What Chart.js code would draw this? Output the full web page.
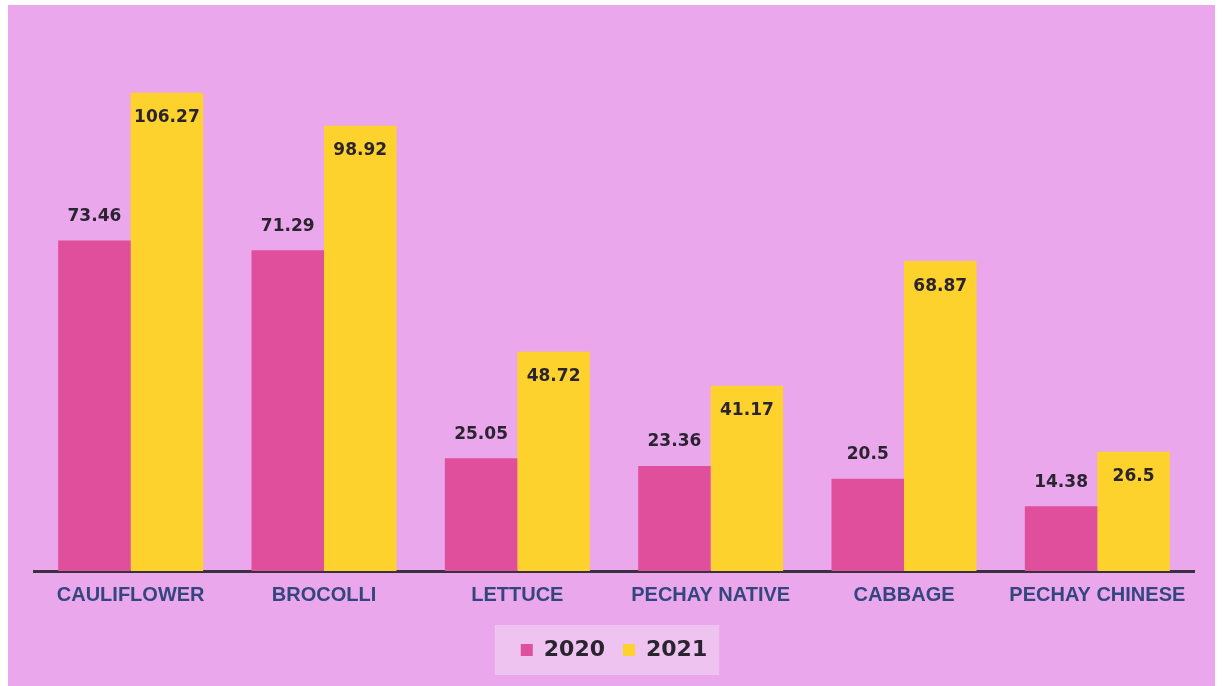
<!DOCTYPE html>
<html>
<head>
<meta charset="utf-8">
<script src="https://cdn.jsdelivr.net/npm/chart.js@4"></script>
<style>
  html, body { margin: 0; padding: 0; background: #ffffff; }
  #wrap { position: relative; width: 1222px; height: 686px; }
  #bg { position: absolute; left: 8px; top: 5px; right: 7px; bottom: 0; background: #eaa7eb; }
  #chart { position: absolute; left: 0; top: 0; }
</style>
</head>
<body>
<div id="wrap">
  <div id="bg"></div>
  <canvas id="chart" width="1222" height="686"></canvas>
</div>
<script>
var categories = ['CAULIFLOWER', 'BROCOLLI', 'LETTUCE', 'PECHAY NATIVE', 'CABBAGE', 'PECHAY CHINESE'];
var values2020 = [73.46, 71.29, 25.05, 23.36, 20.5, 14.38];
var values2021 = [106.27, 98.92, 48.72, 41.17, 68.87, 26.5];
var seriesNames = ['2020', '2021'];

// labels: 2020 sits above the bar, 2021 sits inside the top of the bar
var valueLabels = {
    id: 'valueLabels',
    afterDatasetsDraw: function (chart) {
        var ctx = chart.ctx;
        ctx.save();
        ctx.font = 'bold 17px "DejaVu Sans"';
        ctx.fillStyle = '#2a2430';
        ctx.textAlign = 'center';
        ctx.textBaseline = 'middle';
        chart.data.datasets.forEach(function (ds, i) {
            chart.getDatasetMeta(i).data.forEach(function (bar, j) {
                var y = i === 0 ? bar.y - 24 : bar.y + 25;
                ctx.fillText(String(ds.data[j]), bar.x, y);
            });
        });
        ctx.restore();
    }
};

// lighter panel behind the legend
var legendPanel = {
    id: 'legendPanel',
    beforeDraw: function (chart) {
        var lg = chart.legend;
        if (!lg || !lg.legendHitBoxes || !lg.legendHitBoxes.length) return;
        var first = lg.legendHitBoxes[0];
        var last = lg.legendHitBoxes[lg.legendHitBoxes.length - 1];
        var ctx = chart.ctx;
        ctx.save();
        ctx.fillStyle = '#efc3f0';
        ctx.fillRect(first.left - 26, lg.top + 4, last.left + last.width - first.left + 38, 50);
        ctx.restore();
    }
};

var ctx = document.getElementById('chart').getContext('2d');
var chart = new Chart(ctx, {
    type: 'bar',
    data: {
        labels: categories,
        datasets: [{
            label: seriesNames[0],
            data: values2020,
            backgroundColor: '#df4f9c',
            borderWidth: 0
        }, {
            label: seriesNames[1],
            data: values2021,
            backgroundColor: '#fed22c',
            borderWidth: 0
        }]
    },
    options: {
        responsive: false,
        animation: false,
        layout: {
            padding: { left: 34, right: 28, top: 31, bottom: 15 }
        },
        datasets: {
            bar: { categoryPercentage: 0.75, barPercentage: 1.0 }
        },
        scales: {
            x: {
                grid: { display: true, drawOnChartArea: false, drawTicks: false },
                border: { display: true, color: '#3a3040', width: 3 },
                ticks: {
                    color: '#34467e',
                    padding: 12,
                    font: { family: '"Liberation Sans"', size: 20, weight: 'bold' }
                },
                afterFit: function (scale) { scale.height = 50; }
            },
            y: {
                display: false,
                min: 0,
                max: 120
            }
        },
        plugins: {
            legend: {
                position: 'bottom',
                labels: {
                    boxWidth: 12,
                    boxHeight: 12,
                    padding: 18,
                    color: '#2a2430',
                    font: { family: '"DejaVu Sans"', size: 22, weight: 'bold' }
                }
            },
            tooltip: { enabled: false }
        }
    },
    plugins: [valueLabels, legendPanel]
});
</script>
</body>
</html>
